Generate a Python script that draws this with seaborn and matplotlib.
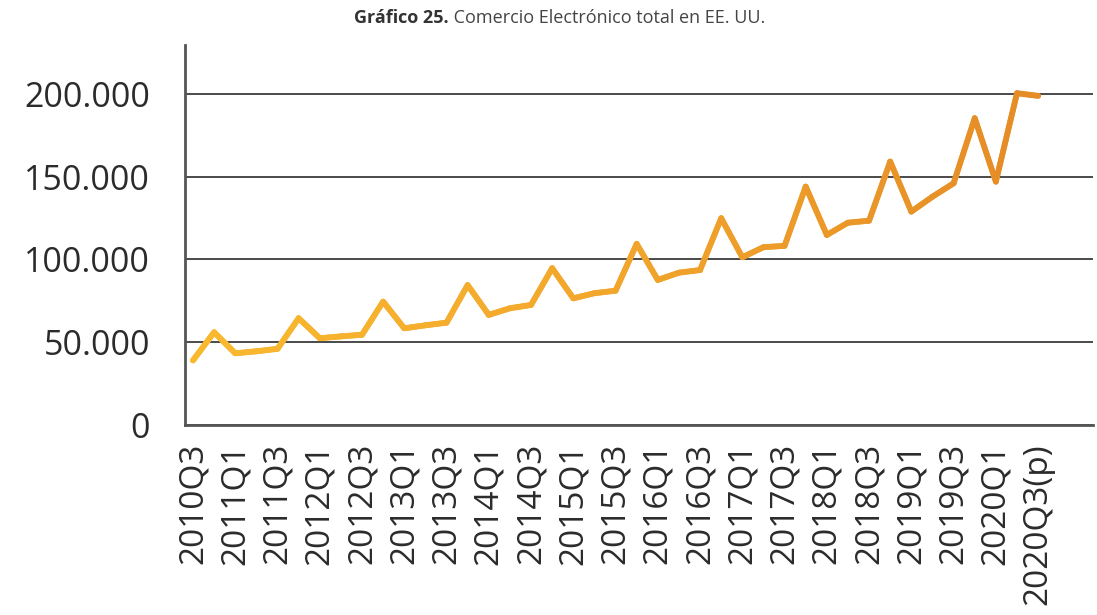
import numpy as np
import pandas as pd
import matplotlib
matplotlib.use("Agg")
import matplotlib.pyplot as plt
from matplotlib.collections import LineCollection
from matplotlib.colors import LinearSegmentedColormap
from matplotlib.ticker import FuncFormatter
import seaborn as sns

# ---- data ----
quarters = [
    "2010Q3", "2010Q4",
    "2011Q1", "2011Q2", "2011Q3", "2011Q4",
    "2012Q1", "2012Q2", "2012Q3", "2012Q4",
    "2013Q1", "2013Q2", "2013Q3", "2013Q4",
    "2014Q1", "2014Q2", "2014Q3", "2014Q4",
    "2015Q1", "2015Q2", "2015Q3", "2015Q4",
    "2016Q1", "2016Q2", "2016Q3", "2016Q4",
    "2017Q1", "2017Q2", "2017Q3", "2017Q4",
    "2018Q1", "2018Q2", "2018Q3", "2018Q4",
    "2019Q1", "2019Q2", "2019Q3", "2019Q4",
    "2020Q1", "2020Q2", "2020Q3(p)",
]
ecommerce = [
    39000, 56000,
    43300, 44500, 46000, 64500,
    52400, 53500, 54500, 74500,
    58400, 60200, 61800, 84500,
    66500, 70500, 72500, 94700,
    76500, 79600, 81100, 109400,
    87600, 92000, 93600, 124900,
    101300, 107400, 108200, 144000,
    114800, 122200, 123400, 159100,
    128900, 137900, 146000, 185300,
    147000, 200400, 198800,
]
y_ticks = [0, 50000, 100000, 150000, 200000]
title_bold = "Gráfico 25."
title_rest = " Comercio Electrónico total en EE. UU."

df = pd.DataFrame({"idx": np.arange(len(quarters)), "quarter": quarters, "valor": ecommerce})

# ---- style ----
sns.set_style("white")
plt.rcParams["font.family"] = ["Open Sans", "DejaVu Sans"]

fig = plt.figure(figsize=(10.97, 6.15), dpi=100)
ax = fig.add_axes([0.1686, 0.309, 0.8278, 0.618])

sns.lineplot(data=df, x="idx", y="valor", ax=ax, color="#F0A52C", linewidth=4.0)

# gradient overlay (yellow -> orange) following the same data
pts = np.column_stack([df["idx"].to_numpy(), df["valor"].to_numpy()])
segs = np.stack([pts[:-1], pts[1:]], axis=1)
cmap = LinearSegmentedColormap.from_list("yo", ["#F9B92E", "#F2A62C", "#E58C27"])
lc = LineCollection(segs, colors=cmap(np.linspace(0, 1, len(segs))),
                    linewidths=4.2, capstyle="round", joinstyle="round", zorder=3)
ax.add_collection(lc)

ax.set_xlim(-0.38, 42.6)
ax.set_ylim(0, 229600)
ax.set_yticks(y_ticks)
ax.yaxis.set_major_formatter(FuncFormatter(lambda v, p: f"{int(v):,}".replace(",", ".")))
ax.set_xticks(df["idx"].to_numpy()[::2])
ax.set_xticklabels(df["quarter"].to_numpy()[::2], rotation=90)

ax.set_xlabel("")
ax.set_ylabel("")

ax.yaxis.grid(True, color="#4a4a4a", linewidth=1.4)
ax.xaxis.grid(False)
ax.set_axisbelow(True)

for s in ["top", "right"]:
    ax.spines[s].set_visible(False)
for s in ["left", "bottom"]:
    ax.spines[s].set_color("#555555")
    ax.spines[s].set_linewidth(2.0)

ax.tick_params(axis="y", length=0, pad=25, labelsize=24.5, labelcolor="#2b2b2b")
ax.tick_params(axis="x", length=0, pad=13, labelsize=24, labelcolor="#2b2b2b")

# ---- title (bold part + regular part) ----
fig.canvas.draw()
r = fig.canvas.get_renderer()
t1 = fig.text(0, 0.97, title_bold, fontsize=13, fontweight="bold", color="#333333", va="center")
t2 = fig.text(0, 0.97, title_rest, fontsize=13, color="#444444", va="center")
w1 = t1.get_window_extent(r).width
w2 = t2.get_window_extent(r).width
W = fig.bbox.width
x0 = 560 - (w1 + w2) / 2
t1.set_x(x0 / W)
t2.set_x((x0 + w1) / W)

fig.savefig("out.png", dpi=100)
